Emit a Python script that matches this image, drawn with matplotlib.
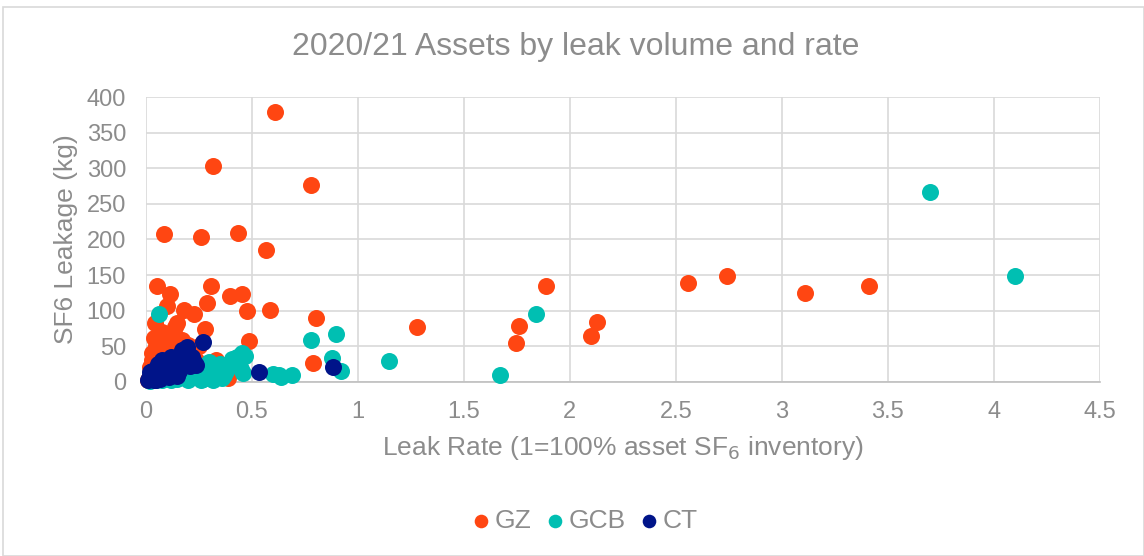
import matplotlib.pyplot as plt
from matplotlib.patches import Rectangle

# leak rate (x) and leakage kg (y)
gz_x = [0.61, 0.318, 0.78, 0.089, 0.26, 0.435, 0.566,
        0.053, 0.115, 0.31, 0.40, 0.455, 0.29, 0.10, 0.18, 0.23, 0.48, 0.586,
        0.045, 0.147, 0.14, 0.28, 0.806, 0.49, 0.79, 0.39,
        1.28, 1.745, 1.76, 1.89, 2.10, 2.13, 2.56, 2.74, 3.11, 3.41,
        0.02, 0.03, 0.04, 0.05, 0.06, 0.07, 0.08, 0.05, 0.03, 0.09, 0.10, 0.12,
        0.14, 0.16, 0.18, 0.20, 0.22, 0.24, 0.26, 0.28, 0.30, 0.32, 0.30, 0.27,
        0.20, 0.15, 0.10, 0.08, 0.06, 0.01, 0.04, 0.11, 0.13, 0.02, 0.33, 0.25,
        0.20, 0.12, 0.08, 0.165, 0.21, 0.07, 0.09, 0.11, 0.15, 0.19, 0.23, 0.06,
        0.13, 0.17, 0.03, 0.35]
gz_y = [379, 304, 277, 208, 203, 209, 185,
        135, 123, 134, 120, 124, 111, 107, 101, 95, 100, 101,
        82, 82, 77, 74, 89, 57, 26, 5,
        77, 54, 79, 134, 64, 84, 139, 149, 125, 134,
        5, 15, 25, 35, 45, 55, 60, 50, 30, 50, 45, 40,
        48, 50, 45, 40, 38, 30, 25, 20, 25, 20, 10, 5,
        5, 10, 20, 30, 10, 2, 62, 58, 55, 20, 30, 50,
        52, 65, 70, 42, 30, 40, 38, 48, 56, 50, 45, 25,
        62, 58, 40, 15]

gcb_x = [0.02, 0.05, 0.08, 0.10, 0.12, 0.15, 0.18, 0.20, 0.22, 0.25, 0.25, 0.28,
         0.30, 0.31, 0.33, 0.36, 0.38, 0.40, 0.41, 0.43, 0.455, 0.47, 0.46, 0.45,
         0.60, 0.64, 0.63, 0.69, 0.064, 0.78, 0.90, 0.877, 0.924, 1.15, 1.67,
         1.84, 3.70, 4.10, 0.20, 0.17, 0.35, 0.13, 0.27, 0.23, 0.29, 0.34,
         0.37, 0.39, 0.26, 0.32]
gcb_y = [1, 2, 3, 5, 2, 4, 6, 3, 8, 12, 22, 15,
         28, 20, 10, 5, 15, 26, 32, 35, 40, 36, 12, 18,
         11, 7, 10, 9, 95, 58, 67, 33, 15, 29, 9,
         95, 267, 148, 15, 12, 25, 8, 4, 18, 6, 18,
         10, 20, 2, 2]

ct_x = [0.01, 0.02, 0.03, 0.04, 0.05, 0.06, 0.07, 0.08, 0.09, 0.10, 0.11, 0.12,
        0.13, 0.14, 0.15, 0.16, 0.18, 0.20, 0.195, 0.22, 0.23, 0.21, 0.10, 0.05,
        0.15, 0.27, 0.535, 0.885, 0.12, 0.08, 0.17, 0.24, 0.03, 0.06, 0.09,
        0.13, 0.16, 0.19, 0.04, 0.07, 0.11, 0.14, 0.02]
ct_y = [3, 8, 5, 12, 18, 10, 22, 15, 25, 20, 28, 15,
        30, 25, 20, 30, 35, 40, 49, 35, 28, 22, 8, 3,
        8, 56, 13, 20, 35, 30, 45, 23, 15, 25, 10,
        22, 15, 28, 2, 4, 6, 10, 14]

series = ['GZ', 'GCB', 'CT']
colors = ['#FF4612', '#00BFB2', '#001489']
txt = '#8C8C8C'

plt.rcParams['font.family'] = ['Liberation Sans', 'DejaVu Sans']

fig = plt.figure(figsize=(11.44, 5.56), dpi=100)
fig.patches.append(Rectangle((3 / 1144, 0), 1 - 3 / 1144, 1 - 7 / 556,
                             transform=fig.transFigure, fill=False,
                             edgecolor='#D9D9D9', linewidth=1.2))
ax = fig.add_axes([0.1272, 0.3135, 0.8343, 0.5115])

for xs, ys, lab, c in zip([gz_x, gcb_x, ct_x], [gz_y, gcb_y, ct_y], series, colors):
    ax.scatter(xs, ys, s=150, color=c, label=lab, linewidths=0, zorder=3,
               clip_on=False)

ax.set_xlim(0, 4.5)
ax.set_ylim(0, 400)
ax.set_xticks([0, 0.5, 1, 1.5, 2, 2.5, 3, 3.5, 4, 4.5])
ax.set_xticklabels(['0', '0.5', '1', '1.5', '2', '2.5', '3', '3.5', '4', '4.5'])
ax.set_yticks(range(0, 401, 50))
ax.grid(True, color='#D9D9D9', linewidth=1.2, zorder=0)
ax.set_axisbelow(True)
for s in ['top', 'right', 'left']:
    ax.spines[s].set_visible(False)
ax.spines['bottom'].set_color('#BFBFBF')
ax.spines['bottom'].set_linewidth(1.2)
ax.tick_params(length=0, labelsize=17, labelcolor=txt, pad=14)

ax.set_xlabel('Leak Rate (1=100% asset SF$_6$ inventory)', fontsize=19, color=txt, labelpad=8)
ax.set_ylabel('SF6 Leakage (kg)', fontsize=19, color=txt, labelpad=6)
fig.text(576 / 1144, 1 - 47 / 556, '2020/21 Assets by leak volume and rate',
         ha='center', va='center', fontsize=23, color=txt)

fig.legend(loc='center', bbox_to_anchor=(583 / 1144, 1 - 521 / 556), ncol=3,
           frameon=False, fontsize=19, labelcolor=txt, handletextpad=0.0,
           handlelength=1.0, columnspacing=0.4, markerscale=0.8)

fig.savefig('out.png', dpi=100)
